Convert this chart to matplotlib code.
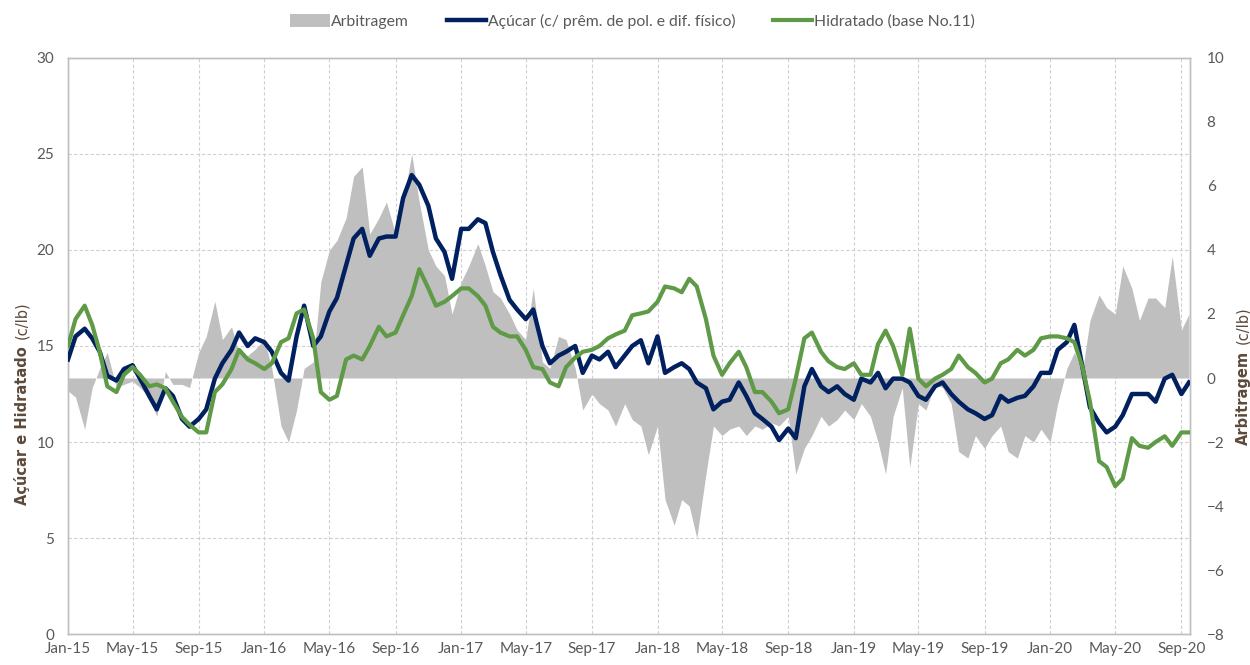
import matplotlib
matplotlib.use("Agg")
import matplotlib.pyplot as plt
import matplotlib.dates as mdates
from matplotlib.lines import Line2D
from matplotlib.patches import Patch
import pandas as pd

plt.rcParams["font.family"] = ["Lato", "DejaVu Sans"]

# semi-monthly observations, Jan-2015 .. mid Sep-2020
dates = pd.date_range("2015-01-01", periods=138, freq="SMS")

acucar = [
    14.3, 15.5, 15.9, 15.4, 14.7, 13.45, 13.2, 13.8, 14.0, 13.3,
    12.4, 11.7, 12.8, 12.4, 11.2, 10.8, 11.2, 11.7, 13.3, 14.1,
    14.8, 15.7, 15.0, 15.4, 15.2, 14.7, 13.6, 13.2, 15.5, 17.1,
    15.0, 15.5, 16.8, 17.5, 19.2, 20.6, 21.1, 19.7, 20.6, 20.7,
    20.7, 22.7, 23.9, 23.4, 22.3, 20.6, 19.9, 18.5, 21.1, 21.1,
    21.6, 21.4, 19.9, 18.7, 17.4, 16.9, 16.4, 16.9, 15.0, 14.1,
    14.5, 14.7, 15.0, 13.6, 14.5, 14.3, 14.7, 13.9, 14.5, 15.0,
    15.3, 14.1, 15.5, 13.6, 13.9, 14.1, 13.8, 13.1, 12.8, 11.7,
    12.1, 12.2, 13.1, 12.4, 11.5, 11.2, 10.8, 10.1, 10.7, 10.2,
    12.9, 13.8, 12.9, 12.6, 12.9, 12.5, 12.2, 13.3, 13.1, 13.6,
    12.8, 13.3, 13.3, 13.1, 12.4, 12.2, 12.9, 13.1, 12.5, 12.1,
    11.7, 11.5, 11.2, 11.4, 12.4, 12.1, 12.3, 12.4, 12.9, 13.6,
    13.6, 14.8, 15.2, 16.1, 13.9, 11.8, 11.0, 10.5, 10.8, 11.4,
    12.5, 12.5, 12.5, 12.1, 13.3, 13.5, 12.5, 13.1,
]

hidratado = [
    15.0, 16.4, 17.1, 16.1, 14.7, 12.9, 12.6, 13.5, 13.9, 13.5,
    12.9, 13.0, 12.8, 12.1, 11.3, 10.9, 10.5, 10.5, 12.6, 13.0,
    13.8, 14.8, 14.3, 14.1, 13.8, 14.1, 15.2, 15.4, 16.7, 16.9,
    15.4, 12.6, 12.2, 12.4, 14.3, 14.5, 14.3, 15.0, 16.0, 15.5,
    15.7, 16.6, 17.6, 19.0, 18.0, 17.1, 17.3, 17.6, 18.0, 18.0,
    17.6, 17.1, 16.0, 15.7, 15.5, 15.5, 14.8, 13.9, 13.8, 13.1,
    12.9, 13.9, 14.4, 14.7, 14.8, 15.0, 15.4, 15.6, 15.8, 16.6,
    16.7, 16.8, 17.3, 18.1, 18.0, 17.8, 18.5, 18.1, 16.4, 14.5,
    13.5, 14.1, 14.7, 13.9, 12.6, 12.6, 12.1, 11.5, 11.7, 13.3,
    15.4, 15.7, 14.7, 14.2, 13.9, 13.8, 14.1, 13.5, 13.5, 15.1,
    15.8, 15.0, 13.5, 15.9, 13.3, 12.9, 13.3, 13.5, 13.8, 14.5,
    13.9, 13.6, 13.1, 13.3, 14.1, 14.3, 14.8, 14.5, 14.8, 15.4,
    15.5, 15.5, 15.4, 15.2, 13.9, 12.1, 9.0, 8.7, 7.7, 8.1,
    10.2, 9.8, 9.7, 10.0, 10.3, 9.8, 10.5, 10.5,
]

arbitragem = [
    -0.4, -0.6, -1.6, -0.3, 0.3, 0.8, -0.3, -0.2, -0.1, -0.3,
    -0.6, -1.2, 0.2, -0.2, -0.2, -0.3, 0.8, 1.3, 2.4, 1.2,
    1.6, 0.8, 0.7, 0.9, 1.2, 0.3, -1.5, -2.0, -1.0, 0.3,
    0.5, 3.0, 4.0, 4.3, 5.0, 6.3, 6.6, 4.5, 5.0, 5.5,
    4.5, 5.5, 7.0, 5.5, 4.0, 3.5, 3.2, 2.0, 3.0, 3.5,
    4.2, 3.5, 2.7, 2.5, 2.0, 1.5, 1.2, 2.8, 0.5, 0.3,
    1.3, 1.2, 0.3, -1.0, -0.5, -0.8, -1.0, -1.5, -0.8, -1.3,
    -1.5, -2.4, -1.5, -3.8, -4.6, -3.8, -4.0, -5.0, -3.0, -1.5,
    -1.8, -1.6, -1.5, -1.8, -1.5, -1.6, -1.4, -1.5, -1.2, -3.0,
    -2.2, -1.8, -1.2, -1.5, -1.3, -1.0, -1.3, -0.8, -1.2, -2.0,
    -3.0, -1.2, -0.3, -2.8, -0.8, -1.0, -0.2, -0.3, -0.8, -2.3,
    -2.5, -1.8, -2.2, -1.8, -1.5, -2.3, -2.5, -1.8, -2.0, -1.6,
    -2.0, -0.8, 0.3, 0.8, 0.2, 1.8, 2.6, 2.2, 2.0, 3.5,
    2.8, 1.8, 2.5, 2.5, 2.2, 3.8, 1.5, 2.0,
]

NAVY = "#002060"
GREEN = "#5F9A47"
GREY_FILL = "#BFBFBF"
TICK_C = "#595959"
LABEL_C = "#5C4A3B"
SPINE_C = "#BFBFBF"

fig = plt.figure(figsize=(12.5, 6.65), dpi=100)
ax = fig.add_axes([0.0544, 0.0466, 0.8976, 0.8662])
ax2 = ax.twinx()   # arbitrage area, right scale
ax3 = ax.twinx()   # price lines, drawn on top of the area

ax2.fill_between(dates, 0, arbitragem, color=GREY_FILL, linewidth=0)
ax3.plot(dates, acucar, color=NAVY, lw=3.2, solid_joinstyle="round")
ax3.plot(dates, hidratado, color=GREEN, lw=3.0, solid_joinstyle="round")

xmin, xmax = pd.Timestamp("2015-01-01"), pd.Timestamp("2020-09-17")
for a in (ax, ax2, ax3):
    a.set_xlim(xmin, xmax)

ax.set_ylim(0, 30)
ax3.set_ylim(0, 30)
ax2.set_ylim(-8, 10)

ax.set_yticks(range(0, 31, 5))
ax2.set_yticks(range(-8, 11, 2))
ax.xaxis.set_major_locator(mdates.MonthLocator(bymonth=[1, 5, 9]))
ax.xaxis.set_major_formatter(mdates.DateFormatter("%b-%y"))

ax.grid(True, color="#D0D0D0", linestyle=(0, (3, 2)), linewidth=0.8)
ax.set_axisbelow(True)

ax.tick_params(axis="y", length=0, pad=10, labelsize=11, labelcolor=TICK_C)
ax.tick_params(axis="x", length=0, pad=6, labelsize=11, labelcolor=TICK_C)
ax2.tick_params(axis="y", length=0, pad=12, labelsize=11, labelcolor=TICK_C)
ax3.set_yticks([])
ax3.tick_params(axis="x", length=0, labelbottom=False)
ax2.tick_params(axis="x", length=0, labelbottom=False)

for a in (ax, ax2):
    for s in a.spines.values():
        s.set_color(SPINE_C)
        s.set_linewidth(1.0)
for s in ax3.spines.values():
    s.set_visible(False)


def axis_title(x, y_px, bold, unit):
    # bold name followed by the unit in regular weight, reading bottom to top
    t = fig.text(x, (665 - y_px) / 665, bold, rotation=90, ha="center", va="bottom",
                 fontsize=10.5, fontweight="bold", color=LABEL_C, family="DejaVu Sans")
    fig.canvas.draw()
    top = t.get_window_extent().y1 + 7
    fig.text(x, top / fig.bbox.height, unit, rotation=90, ha="center", va="bottom",
             fontsize=10.5, color=LABEL_C, family="DejaVu Sans")


axis_title(0.0176, 505, "Açúcar e Hidratado", "(c/lb)")
axis_title(0.9944, 445, "Arbitragem", "(c/lb)")

handles = [
    Patch(facecolor=GREY_FILL, edgecolor="none"),
    Line2D([], [], color=NAVY, lw=3.2),
    Line2D([], [], color=GREEN, lw=3.0),
]
labels = [
    "Arbitragem",
    "Açúcar (c/ prêm. de pol. e dif. físico)",
    "Hidratado (base No.11)",
]
fig.legend(handles, labels, loc="center", bbox_to_anchor=(0.506, 0.968), ncol=3,
           frameon=False, fontsize=11.3, labelcolor=TICK_C, handlelength=2.5,
           handleheight=0.9, handletextpad=0.1, columnspacing=2.4)

fig.savefig("out.png", dpi=100)
